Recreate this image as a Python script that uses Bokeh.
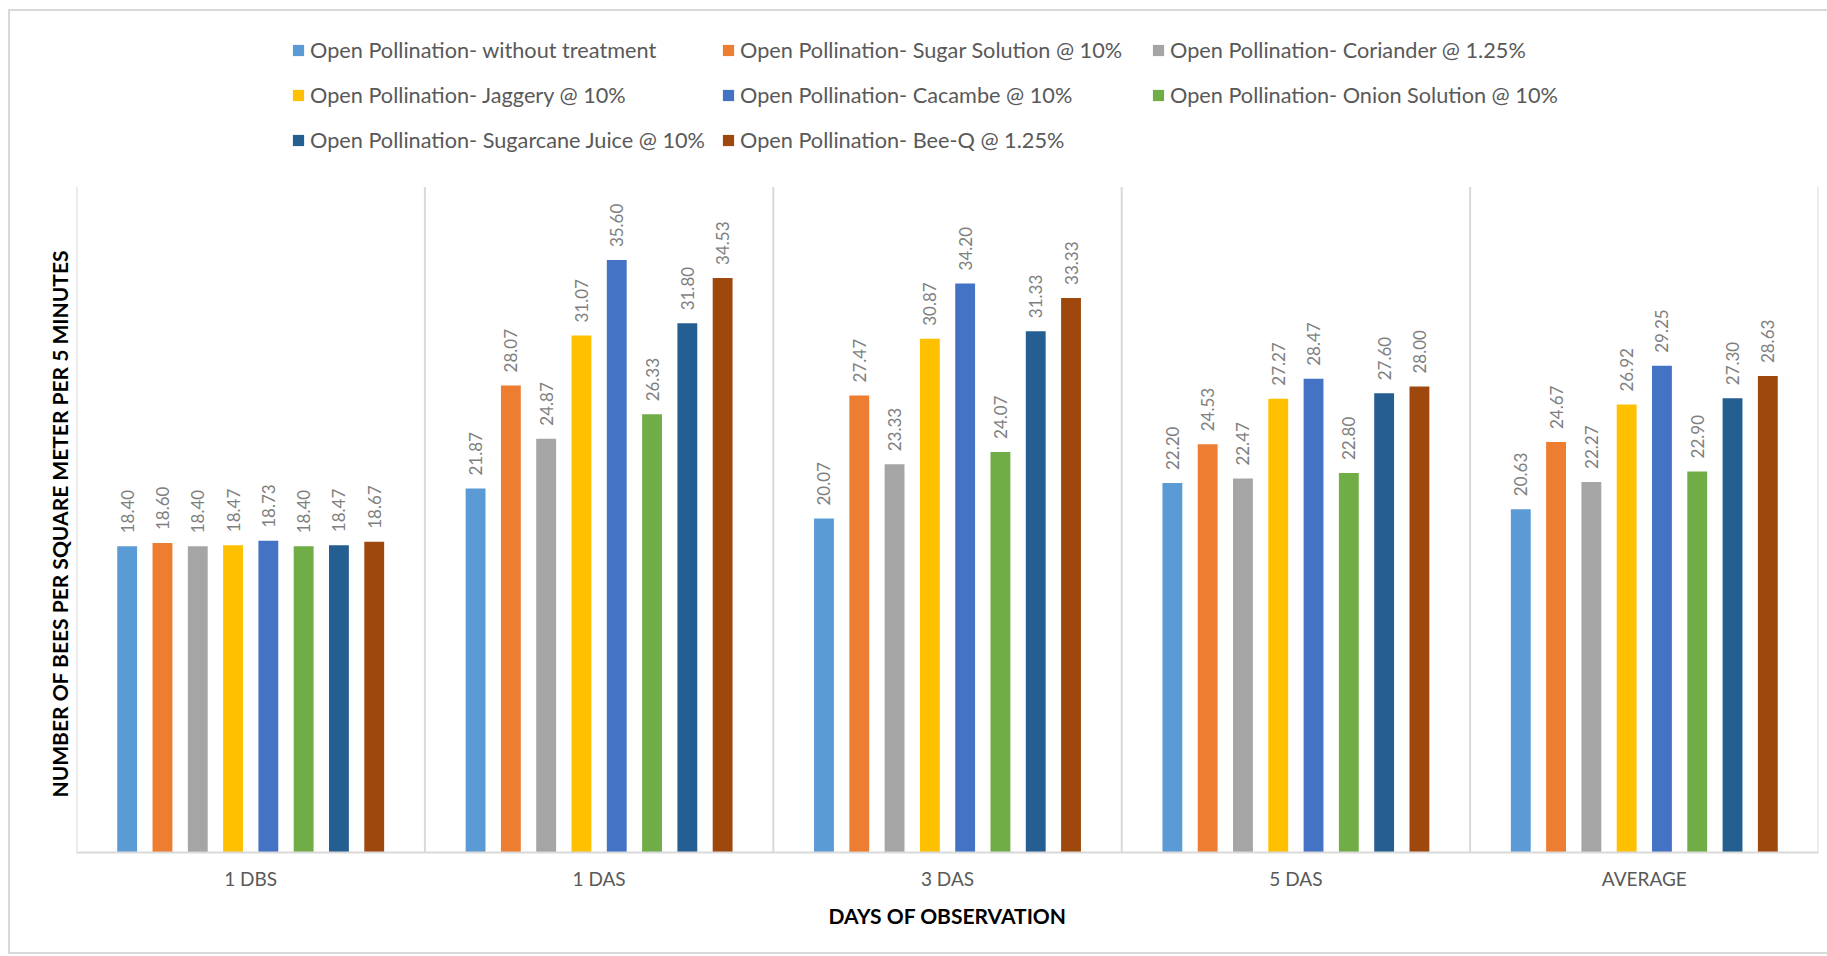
from math import pi
from bokeh.plotting import figure
from bokeh.models import (ColumnDataSource, FactorRange, Range1d, Legend, LegendItem,
                          Title, InlineStyleSheet)
from bokeh.transform import dodge
from bokeh.core.properties import value
from bokeh.embed import file_html
from bokeh.resources import INLINE

categories = ["1 DBS", "1 DAS", "3 DAS", "5 DAS", "AVERAGE"]

series_names = [
    "Open Pollination- without treatment",
    "Open Pollination- Sugar Solution @ 10%",
    "Open Pollination- Coriander @ 1.25%",
    "Open Pollination- Jaggery @ 10%",
    "Open Pollination- Cacambe @ 10%",
    "Open Pollination- Onion Solution @ 10%",
    "Open Pollination- Sugarcane Juice @ 10%",
    "Open Pollination- Bee-Q @ 1.25%",
]

without_treatment = [18.40, 21.87, 20.07, 22.20, 20.63]
sugar_solution = [18.60, 28.07, 27.47, 24.53, 24.67]
coriander = [18.40, 24.87, 23.33, 22.47, 22.27]
jaggery = [18.47, 31.07, 30.87, 27.27, 26.92]
cacambe = [18.73, 35.60, 34.20, 28.47, 29.25]
onion_solution = [18.40, 26.33, 24.07, 22.80, 22.90]
sugarcane_juice = [18.47, 31.80, 31.33, 27.60, 27.30]
bee_q = [18.67, 34.53, 33.33, 28.00, 28.63]

series_values = [without_treatment, sugar_solution, coriander, jaggery,
                 cacambe, onion_solution, sugarcane_juice, bee_q]

colors = ["#5B9BD5", "#ED7D31", "#A5A5A5", "#FFC000",
          "#4472C4", "#70AD47", "#255E91", "#9E480E"]

FONT = "Lato"
GRID = "#d9d9d9"
Y_MAX = 40

border_css = InlineStyleSheet(css="""
:host::after {
  content: "";
  position: absolute;
  left: 8px; top: 9px; right: 0px; bottom: 2px;
  border-left: 2px solid #d9d9d9;
  border-top: 2px solid #d9d9d9;
  border-bottom: 2px solid #d9d9d9;
  pointer-events: none;
}
""")

p = figure(
    x_range=FactorRange(*categories, range_padding=0),
    y_range=Range1d(0, 50),
    width=1827, height=956,
    output_backend="svg", toolbar_location=None,
    min_border_left=76, min_border_right=9,
    min_border_top=20, min_border_bottom=104,
    stylesheets=[border_css],
)
p.outline_line_color = None
p.xgrid.visible = False
p.ygrid.visible = False
p.background_fill_color = "white"
p.border_fill_color = "white"

# category separators (plot-area boundaries)
bounds = list(range(len(categories) + 1))
p.segment(x0=bounds, y0=[0] * len(bounds), x1=bounds, y1=[Y_MAX] * len(bounds),
          line_color=GRID, line_width=2)

step = 0.1013
bar_w = 0.057
items = []
for i, (name, vals, col) in enumerate(zip(series_names, series_values, colors)):
    src = ColumnDataSource(dict(cat=categories, val=vals,
                                lab=["%.2f" % v for v in vals]))
    off = (i - 3.5) * step
    r = p.vbar(x=dodge("cat", off, range=p.x_range), top="val", width=bar_w,
               source=src, fill_color=col, line_color=None)
    p.text(x=dodge("cat", off, range=p.x_range), y="val", text="lab", source=src,
           angle=pi / 2, text_align="left", text_baseline="middle",
           y_offset=-13, text_font=value(FONT), text_font_size="17px",
           text_color="#7f7f7f")
    items.append(LegendItem(label=name, renderers=[r]))

legend = Legend(items=items, orientation="horizontal", ncols=3,
                location=(215, 696), padding=0, margin=0,
                border_line_color=None, background_fill_alpha=0,
                glyph_width=14, glyph_height=14, label_standoff=5,
                label_height=33, label_width=399, spacing=12,
                label_text_font=FONT, label_text_font_size="21.7px",
                label_text_color="#595959")
p.add_layout(legend, "center")

# x axis
xa = p.xaxis[0]
xa.axis_line_color = GRID
xa.axis_line_width = 2
xa.major_tick_line_color = None
xa.minor_tick_line_color = None
xa.major_tick_out = 0
xa.major_label_standoff = 14
xa.major_label_text_font = FONT
xa.major_label_text_font_size = "19px"
xa.major_label_text_color = "#595959"
xa.axis_label = "DAYS OF OBSERVATION"
xa.axis_label_text_font = FONT
xa.axis_label_text_font_style = "bold"
xa.axis_label_text_font_size = "21px"
xa.axis_label_text_color = "#000000"
xa.axis_label_standoff = 10

# y axis title, placed beside the 0-40 plot area
p.yaxis.visible = False
ytitle = Title(text="NUMBER OF BEES PER SQUARE METER PER 5 MINUTES",
               align="left", offset=55, standoff=10,
               text_font=FONT, text_font_style="bold",
               text_font_size="21px", text_color="#000000")
p.add_layout(ytitle, "left")

open("out.html", "w").write(file_html(p, INLINE))
